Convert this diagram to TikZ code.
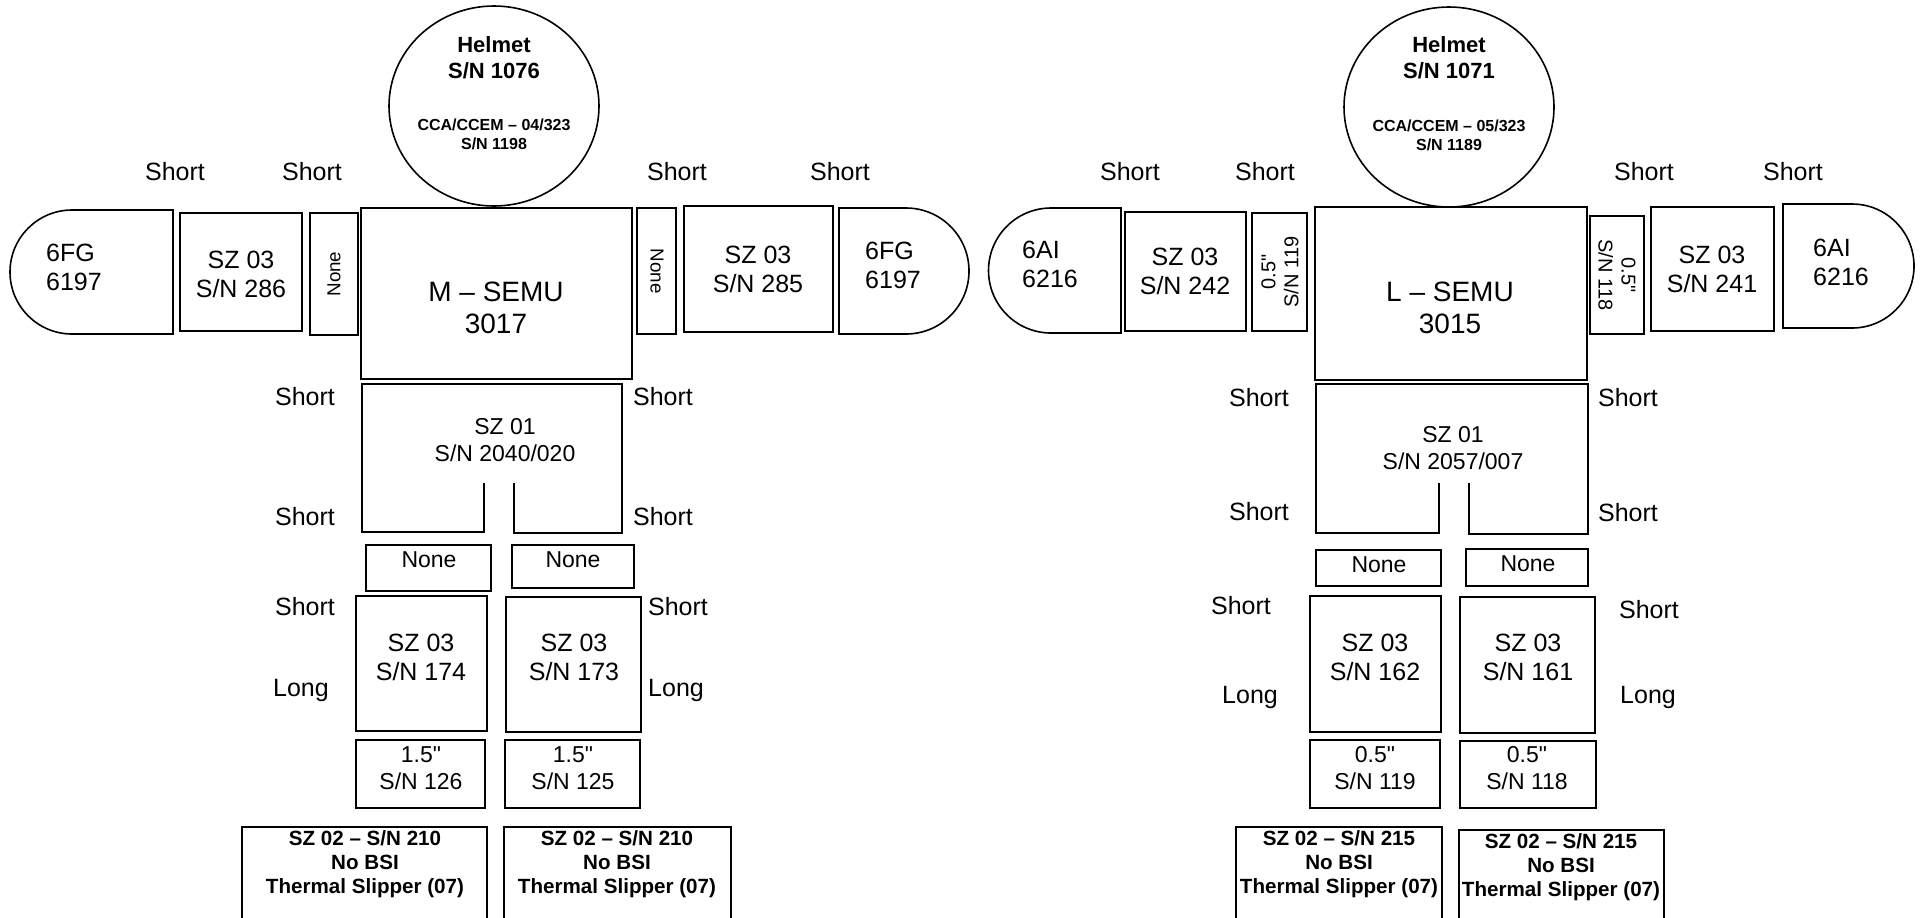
\documentclass[tikz,border=0pt]{standalone}
\usepackage{fontspec}
\setmainfont{Liberation Sans}[Ligatures=TeXOff]
\begin{document}
\begin{tikzpicture}[x=0.5pt,y=-0.5pt,line width=0.8pt,
	lbl/.style={font=\fontsize{12.5}{14}\selectfont},
	txt/.style={align=center,font=\fontsize{12.5}{14.5}\selectfont},
	sml/.style={align=center,font=\fontsize{11.5}{13.5}\selectfont},
	big/.style={align=center,font=\fontsize{14}{16}\selectfont},
	bld/.style={align=center,font=\bfseries\fontsize{10.3}{12}\selectfont},
	hlm/.style={align=center,font=\bfseries\fontsize{11}{13}\selectfont},
	cca/.style={align=center,font=\bfseries\fontsize{8}{9.5}\selectfont},
	vrt/.style={align=center,font=\fontsize{10}{11.5}\selectfont}]
	\useasboundingbox (0,0) rectangle (1921,917);

	% M - SEMU
	\draw (494,106) ellipse [x radius=105, y radius=100];
	\node[hlm] (helmM) at (494,58) {Helmet\\S/N 1076};
	\node[cca] (ccaM) at (494,134) {CCA/CCEM – 04/323\\S/N 1198};
	\node[lbl] (shMa) at (175,172) {Short};
	\node[lbl] (shMb) at (312,172) {Short};
	\node[lbl] (shMc) at (677,172) {Short};
	\node[lbl] (shMd) at (840,172) {Short};
	\draw (173,210) -- (72,210) arc[start angle=270, end angle=90, radius=62] -- (173,334) -- cycle;
	\node[txt,align=left] (gloveMl) at (74,267) {6FG\\6197};
	\draw (180,213) rectangle (302,331);
	\node[txt] (armMl) at (241,274) {SZ 03\\S/N 286};
	\draw (310,213) rectangle (358,335);
	\node[vrt,font=\fontsize{9.4}{11}\selectfont,rotate=90] (ringMl) at (334,274) {None};
	\draw (361,208) rectangle (632,379);
	\node[big] (semuM) at (496,308) {M – SEMU\\3017};
	\draw (637,208) rectangle (676,334);
	\node[vrt,font=\fontsize{9.4}{11}\selectfont,rotate=-90] (ringMr) at (657,271) {None};
	\draw (684,206) rectangle (833,332);
	\node[txt] (armMr) at (758,269) {SZ 03\\S/N 285};
	\draw (839,208) -- (906,208) arc[start angle=-90, end angle=90, radius=63] -- (839,334) -- cycle;
	\node[txt,align=left] (gloveMr) at (893,265) {6FG\\6197};
	\draw (484,483) -- (484,532) -- (362,532) -- (362,384) -- (622,384) -- (622,533) -- (514,533) -- (514,483);
	\node[sml] (lowerM) at (505,440) {SZ 01\\S/N 2040/020};
	\node[lbl] (shMe) at (305,397) {Short};
	\node[lbl] (shMf) at (663,397) {Short};
	\node[lbl] (shMg) at (305,517) {Short};
	\node[lbl] (shMh) at (663,517) {Short};
	\draw (366,545) rectangle (491,591);
	\node[sml] (ringMll) at (429,560) {None};
	\draw (512,545) rectangle (634,588);
	\node[sml] (ringMrl) at (573,560) {None};
	\node[lbl] (shMi) at (305,607) {Short};
	\node[lbl] (shMj) at (678,607) {Short};
	\draw (356,596) rectangle (487,731);
	\node[txt] (legMl) at (421,657) {SZ 03\\S/N 174};
	\draw (506,597) rectangle (641,732);
	\node[txt] (legMr) at (574,657) {SZ 03\\S/N 173};
	\node[lbl] (lgMa) at (301,690) {Long};
	\node[lbl] (lgMb) at (676,690) {Long};
	\draw (356,740) rectangle (485,808);
	\node[sml] (spMl) at (421,768) {1.5"\\S/N 126};
	\draw (505,740) rectangle (640,808);
	\node[sml] (spMr) at (573,768) {1.5"\\S/N 125};
	\draw (242,925) |- (487,827) -- (487,925);
	\node[bld] (bootMl) at (365,864) {SZ 02 – S/N 210\\No BSI\\Thermal Slipper (07)};
	\draw (504,925) |- (731,827) -- (731,925);
	\node[bld] (bootMr) at (617,864) {SZ 02 – S/N 210\\No BSI\\Thermal Slipper (07)};

	% L - SEMU
	\draw (1449,107) ellipse [x radius=105, y radius=100];
	\node[hlm] (helmL) at (1449,58) {Helmet\\S/N 1071};
	\node[cca] (ccaL) at (1449,135) {CCA/CCEM – 05/323\\S/N 1189};
	\node[lbl] (shLa) at (1130,172) {Short};
	\node[lbl] (shLb) at (1265,172) {Short};
	\node[lbl] (shLc) at (1644,172) {Short};
	\node[lbl] (shLd) at (1793,172) {Short};
	\draw (1121,208) -- (1051,208) arc[start angle=270, end angle=90, radius=62.5] -- (1121,333) -- cycle;
	\node[txt,align=left] (gloveLl) at (1050,264) {6AI\\6216};
	\draw (1125,212) rectangle (1246,331);
	\node[txt] (armLl) at (1185,271) {SZ 03\\S/N 242};
	\draw (1252,213) rectangle (1307,331);
	\node[vrt,rotate=90] (ringLl) at (1280,272) {0.5"\\S/N 119};
	\draw (1315,207) rectangle (1587,380);
	\node[big] (semuL) at (1450,308) {L – SEMU\\3015};
	\draw (1590,216) rectangle (1644,334);
	\node[vrt,rotate=-90] (ringLr) at (1617,275) {0.5"\\S/N 118};
	\draw (1651,207) rectangle (1774,331);
	\node[txt] (armLr) at (1712,269) {SZ 03\\S/N 241};
	\draw (1783,204) -- (1852,204) arc[start angle=-90, end angle=90, radius=62] -- (1783,328) -- cycle;
	\node[txt,align=left] (gloveLr) at (1841,262) {6AI\\6216};
	\draw (1439,483) -- (1439,533) -- (1316,533) -- (1316,384) -- (1588,384) -- (1588,534) -- (1469,534) -- (1469,483);
	\node[sml] (lowerL) at (1453,448) {SZ 01\\S/N 2057/007};
	\node[lbl] (shLe) at (1259,398) {Short};
	\node[lbl] (shLf) at (1628,398) {Short};
	\node[lbl] (shLg) at (1259,512) {Short};
	\node[lbl] (shLh) at (1628,513) {Short};
	\draw (1316,550) rectangle (1441,586);
	\node[sml] (ringLll) at (1379,565) {None};
	\draw (1466,549) rectangle (1588,586);
	\node[sml] (ringLrl) at (1528,564) {None};
	\node[lbl] (shLi) at (1241,606) {Short};
	\node[lbl] (shLj) at (1649,610) {Short};
	\draw (1310,596) rectangle (1441,732);
	\node[txt] (legLl) at (1375,657) {SZ 03\\S/N 162};
	\draw (1460,597) rectangle (1595,733);
	\node[txt] (legLr) at (1528,657) {SZ 03\\S/N 161};
	\node[lbl] (lgLa) at (1250,697) {Long};
	\node[lbl] (lgLb) at (1648,697) {Long};
	\draw (1310,740) rectangle (1440,808);
	\node[sml] (spLl) at (1375,768) {0.5"\\S/N 119};
	\draw (1460,741) rectangle (1596,808);
	\node[sml] (spLr) at (1527,768) {0.5"\\S/N 118};
	\draw (1236,925) |- (1442,827) -- (1442,925);
	\node[bld] (bootLl) at (1339,864) {SZ 02 – S/N 215\\No BSI\\Thermal Slipper (07)};
	\draw (1459,925) |- (1664,830) -- (1664,925);
	\node[bld] (bootLr) at (1561,867) {SZ 02 – S/N 215\\No BSI\\Thermal Slipper (07)};
\end{tikzpicture}
\end{document}
